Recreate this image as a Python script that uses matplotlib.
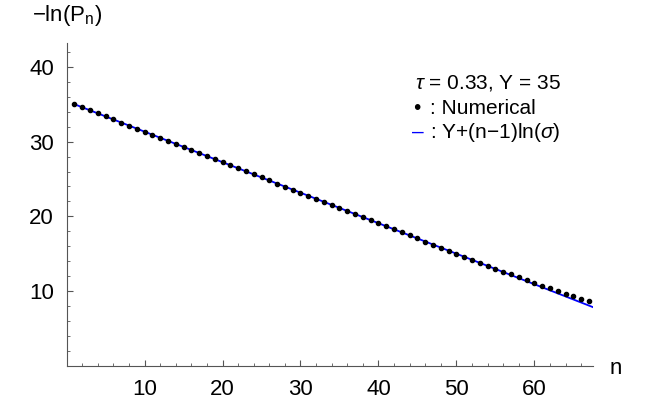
import numpy as np
import matplotlib
matplotlib.use("Agg")
import matplotlib.pyplot as plt

plt.rcParams['font.family'] = ['Liberation Sans', 'DejaVu Sans']
plt.rcParams['mathtext.fontset'] = 'custom'
plt.rcParams['mathtext.rm'] = 'Liberation Sans'
plt.rcParams['mathtext.it'] = 'Liberation Sans:italic'

# numerical values of -ln(P_n), n = 1..67
n_vals = np.arange(1, 68)
neg_ln_p = [35.00, 34.59, 34.18, 33.78, 33.37, 32.96, 32.55, 32.14, 31.74, 31.33,
            30.92, 30.51, 30.10, 29.70, 29.29, 28.88, 28.47, 28.06, 27.66, 27.25,
            26.84, 26.43, 26.02, 25.62, 25.21, 24.80, 24.39, 23.98, 23.58, 23.17,
            22.76, 22.35, 21.94, 21.54, 21.13, 20.72, 20.31, 19.90, 19.50, 19.09,
            18.68, 18.27, 17.86, 17.46, 17.05, 16.64, 16.23, 15.82, 15.42, 15.01,
            14.61, 14.21, 13.81, 13.41, 13.02, 12.62, 12.24, 11.85, 11.48, 11.12,
            10.74, 10.37, 10.01, 9.67, 9.33, 8.98, 8.66]

# fit line parameters
Y = 35
ln_sigma = -0.408
n_line = np.array([1, 67.5])

fig = plt.figure(figsize=(6.54, 4.04), dpi=100)
ax = fig.add_axes([0.1017, 0.094, 0.805, 0.80])

ax.plot(n_line, Y + (n_line - 1) * ln_sigma, color='blue', lw=1.3, zorder=2)
ax.plot(n_vals, neg_ln_p, 'o', color='black', ms=3, zorder=3)

ax.set_xlim(0, 67.5)
ax.set_ylim(0, 43.2)
ax.set_xticks([10, 20, 30, 40, 50, 60])
ax.set_yticks([10, 20, 30, 40])
ax.set_xticks(np.arange(2, 68, 2), minor=True)
ax.set_yticks(np.arange(2, 43, 2), minor=True)
ax.tick_params(which='major', direction='in', length=4, width=0.8, color='#555555',
               labelsize=16, pad=9)
ax.tick_params(which='minor', direction='in', length=2, width=0.6, color='#555555')
for s in ['top', 'right']:
    ax.spines[s].set_visible(False)
for s in ['left', 'bottom']:
    ax.spines[s].set_color('#555555')
    ax.spines[s].set_linewidth(0.8)

fig.text(32 / 654, 1 - 15 / 404, r'$-$ln(P$_\mathrm{n}$)', fontsize=16, va='center', ha='left')
fig.text(610 / 654, 1 - 368 / 404, 'n', fontsize=16, va='center', ha='left')

fs = 15
fig.text(415 / 654, 1 - 83 / 404, r'$\tau$ = 0.33, Y = 35', fontsize=fs, va='center', ha='left')
fig.text(413 / 654, 1 - 108 / 404, '•', fontsize=fs, va='center', ha='left')
fig.text(430 / 654, 1 - 108 / 404, ': Numerical', fontsize=fs, va='center', ha='left')
fig.text(412 / 654, 1 - 132 / 404, '–', fontsize=fs, color='blue', va='center', ha='left')
fig.text(430 / 654, 1 - 132 / 404, r': Y+(n$-$1)ln($\sigma$)', fontsize=fs, va='center', ha='left')

fig.savefig('out.png', dpi=100)
